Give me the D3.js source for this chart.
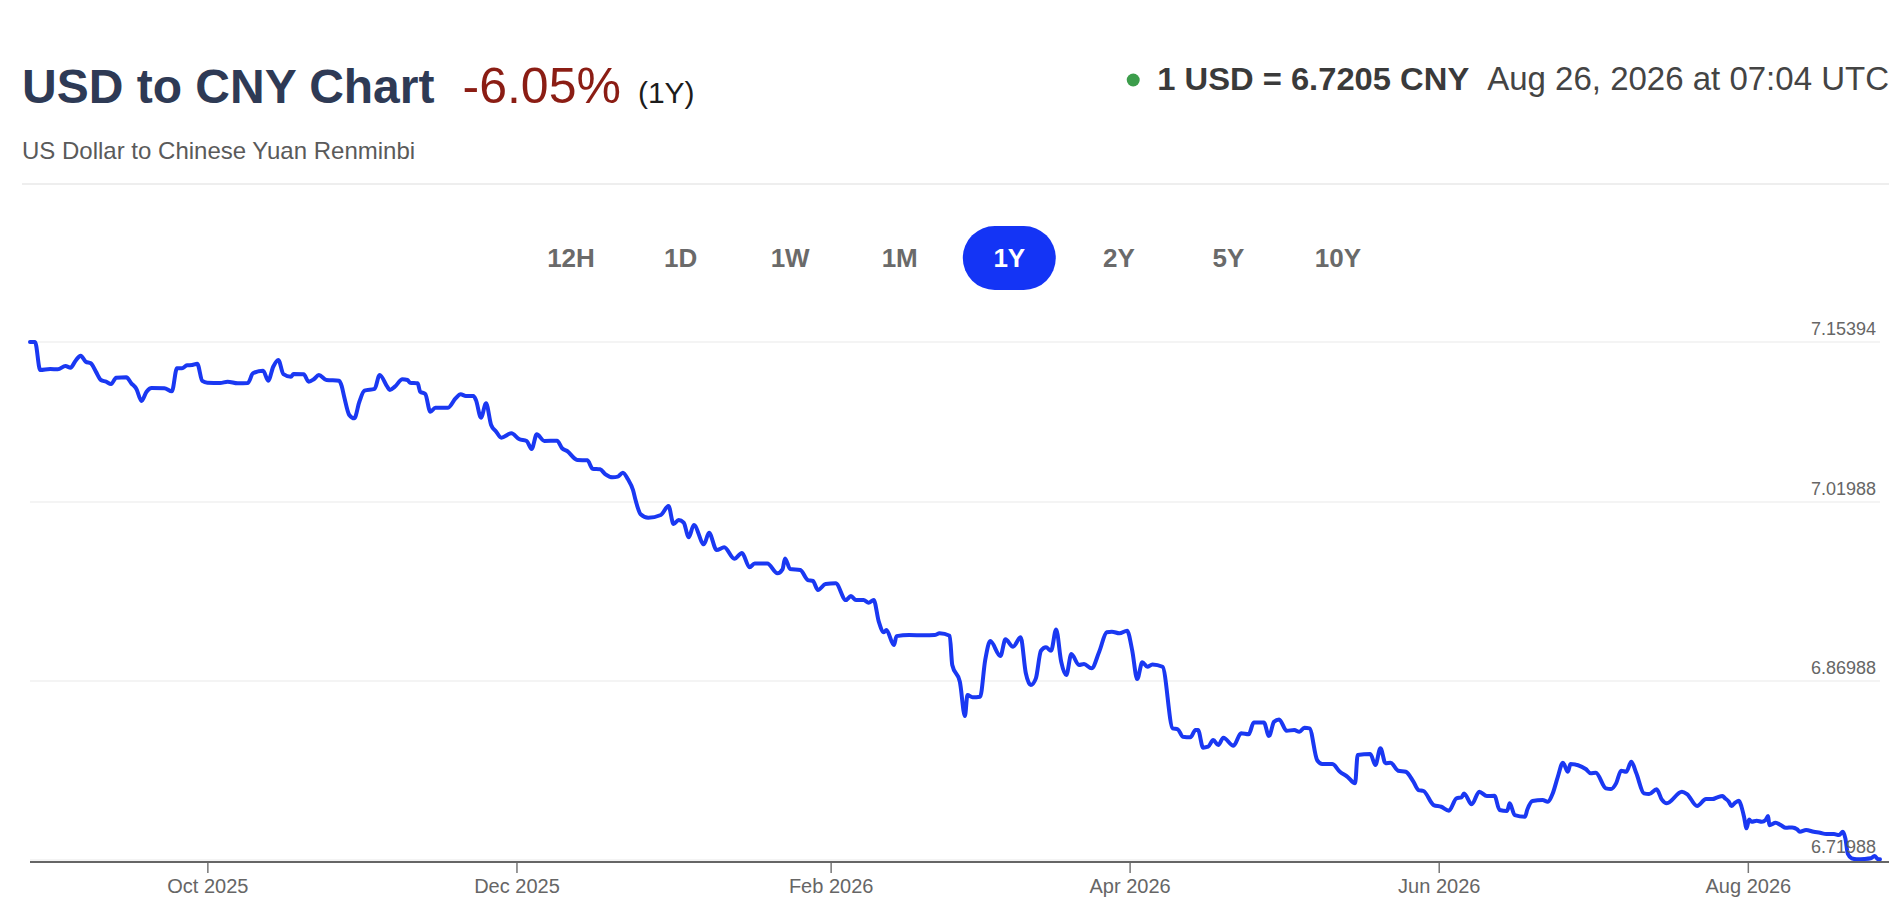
<!DOCTYPE html>
<html>
<head>
<meta charset="utf-8">
<script src="https://cdn.jsdelivr.net/npm/d3@7"></script>
<style>
  html, body { margin: 0; padding: 0; background: #ffffff; }
  svg { display: block; font-family: "Liberation Sans", Arial, Helvetica, sans-serif; }
</style>
</head>
<body>
<svg id="chart" width="1896" height="918"></svg>
<script>
// ---------- data ----------
const titleText = "USD to CNY Chart";
const changeText = "-6.05%";
const periodText = "(1Y)";
const subtitleText = "US Dollar to Chinese Yuan Renminbi";
const rateText = "1 USD = 6.7205 CNY";
const timeText = "Aug 26, 2026 at 07:04 UTC";
const rangeButtons = ["12H", "1D", "1W", "1M", "1Y", "2Y", "5Y", "10Y"];
const activeButton = "1Y";
const yTickValues = [7.15394, 7.01988, 6.86988, 6.71988];
const xTickDates = ["2025-10-01", "2025-12-01", "2026-02-01", "2026-04-01", "2026-06-01", "2026-08-01"];

const dates = [
  "2025-08-27","2025-08-28","2025-08-29","2025-08-31","2025-09-01T12","2025-09-03","2025-09-04","2025-09-05",
  "2025-09-06","2025-09-07","2025-09-08","2025-09-09","2025-09-10","2025-09-11","2025-09-12","2025-09-13",
  "2025-09-15","2025-09-16","2025-09-17","2025-09-18","2025-09-19","2025-09-20","2025-09-22T12","2025-09-24",
  "2025-09-25","2025-09-26","2025-09-27","2025-09-28","2025-09-29","2025-09-30","2025-10-01","2025-10-03T12",
  "2025-10-05","2025-10-07","2025-10-09","2025-10-10","2025-10-12","2025-10-13","2025-10-14","2025-10-15",
  "2025-10-16","2025-10-17T12","2025-10-18","2025-10-20","2025-10-21","2025-10-22","2025-10-23","2025-10-24T12",
  "2025-10-27","2025-10-27T12","2025-10-28","2025-10-29","2025-10-30","2025-10-31","2025-11-01","2025-11-03",
  "2025-11-04","2025-11-05T12","2025-11-06","2025-11-07","2025-11-08T12","2025-11-09T12","2025-11-10","2025-11-11T12",
  "2025-11-12","2025-11-13","2025-11-14","2025-11-15","2025-11-17T12","2025-11-19","2025-11-20","2025-11-21",
  "2025-11-22T12","2025-11-23","2025-11-24","2025-11-25","2025-11-26","2025-11-27","2025-11-28","2025-11-30",
  "2025-12-01T12","2025-12-03","2025-12-04","2025-12-05","2025-12-06T12","2025-12-09","2025-12-10","2025-12-11",
  "2025-12-13","2025-12-15","2025-12-16","2025-12-17T12","2025-12-18T12","2025-12-20","2025-12-21","2025-12-22",
  "2025-12-23","2025-12-24","2025-12-24T12","2025-12-25T12","2025-12-27","2025-12-29T12","2025-12-31","2026-01-01",
  "2026-01-02","2026-01-03","2026-01-04","2026-01-05","2026-01-07","2026-01-08","2026-01-09T12","2026-01-11",
  "2026-01-13","2026-01-14T12","2026-01-16","2026-01-17","2026-01-19T12","2026-01-21T12","2026-01-22T12","2026-01-23",
  "2026-01-24","2026-01-26","2026-01-27T12","2026-01-28T12","2026-01-29T12","2026-01-31","2026-02-02","2026-02-04",
  "2026-02-05","2026-02-06","2026-02-07T12","2026-02-08T12","2026-02-09T12","2026-02-10T12","2026-02-11T12","2026-02-12",
  "2026-02-13T12","2026-02-14","2026-02-16T12","2026-02-19T12","2026-02-21T12","2026-02-22T12","2026-02-24T12","2026-02-25",
  "2026-02-26T12","2026-02-27T12","2026-02-28","2026-03-01","2026-03-02T12","2026-03-03T12","2026-03-04T12","2026-03-06T12",
  "2026-03-07T12","2026-03-09","2026-03-10T12","2026-03-11T12","2026-03-12T12","2026-03-13T12","2026-03-14T12","2026-03-15T12",
  "2026-03-16T12","2026-03-17T12","2026-03-18T12","2026-03-19T12","2026-03-20T12","2026-03-22","2026-03-23","2026-03-24T12",
  "2026-03-26","2026-03-27T12","2026-03-28T12","2026-03-30","2026-03-31T12","2026-04-01T12","2026-04-02T12","2026-04-03T12",
  "2026-04-04T12","2026-04-05T12","2026-04-07T12","2026-04-09T12","2026-04-10T12","2026-04-11T12","2026-04-13","2026-04-14",
  "2026-04-14T12","2026-04-15T12","2026-04-16T12","2026-04-17T12","2026-04-18T12","2026-04-19T12","2026-04-21T12","2026-04-23",
  "2026-04-24T12","2026-04-25T12","2026-04-27T12","2026-04-28T12","2026-04-29T12","2026-04-30T12","2026-05-02","2026-05-03T12",
  "2026-05-04T12","2026-05-05T12","2026-05-06T12","2026-05-08","2026-05-09","2026-05-11","2026-05-12T12","2026-05-14",
  "2026-05-15T12","2026-05-16","2026-05-18T12","2026-05-19T12","2026-05-20T12","2026-05-21T12","2026-05-22T12","2026-05-24",
  "2026-05-25T12","2026-05-27","2026-05-28","2026-05-29","2026-05-31","2026-06-01T12","2026-06-03","2026-06-04T12",
  "2026-06-05T12","2026-06-06","2026-06-07T12","2026-06-09","2026-06-10T12","2026-06-12","2026-06-13","2026-06-14T12",
  "2026-06-15","2026-06-16","2026-06-18","2026-06-18T12","2026-06-19T12","2026-06-21T12","2026-06-22T12","2026-06-23T12",
  "2026-06-24T12","2026-06-25T12","2026-06-26T12","2026-06-27","2026-06-30","2026-07-01","2026-07-02","2026-07-04",
  "2026-07-05","2026-07-06","2026-07-07","2026-07-08","2026-07-09","2026-07-10","2026-07-11T12","2026-07-12T12",
  "2026-07-14","2026-07-15","2026-07-16","2026-07-19","2026-07-20","2026-07-22","2026-07-23T18","2026-07-25",
  "2026-07-26","2026-07-27","2026-07-27T12","2026-07-28T06","2026-07-28T18","2026-07-29T12","2026-07-30T06","2026-07-30T18",
  "2026-07-31T06","2026-07-31T18","2026-08-01T06","2026-08-01T18","2026-08-02T18","2026-08-03T18","2026-08-04T12","2026-08-05",
  "2026-08-05T06","2026-08-06T12","2026-08-07T12","2026-08-08T12","2026-08-09T18","2026-08-10T18","2026-08-11T06","2026-08-12T12",
  "2026-08-14","2026-08-15T06","2026-08-16T12","2026-08-18","2026-08-19","2026-08-19T18","2026-08-20T06","2026-08-20T18",
  "2026-08-21T12","2026-08-22T12","2026-08-24","2026-08-25T06","2026-08-26","2026-08-26T18","2026-08-27T02"
];

const rates = [
  7.15394,7.1539,7.1305,7.1313,7.1311,7.1338,7.1324,7.1383,
  7.1425,7.1374,7.1361,7.1291,7.1221,7.1207,7.1187,7.1240,
  7.1244,7.1193,7.1146,7.1045,7.1123,7.1154,7.1152,7.1126,
  7.1319,7.1319,7.1344,7.1347,7.1358,7.1213,7.1198,7.1196,
  7.1207,7.1193,7.1196,7.1277,7.1299,7.1215,7.1332,7.1389,
  7.1271,7.1249,7.1271,7.1269,7.1207,7.1227,7.1263,7.1221,
  7.1215,7.1171,7.1081,7.0928,7.0900,7.1039,7.1131,7.1146,
  7.1263,7.1165,7.1137,7.1165,7.1227,7.1221,7.1198,7.1193,
  7.1123,7.1104,7.0955,7.0989,7.0989,7.1068,7.1101,7.1087,
  7.1087,7.1053,7.0905,7.1026,7.0844,7.0788,7.0738,7.0774,
  7.0727,7.0710,7.0643,7.0766,7.0710,7.0712,7.0649,7.0626,
  7.0551,7.0548,7.0478,7.0473,7.0433,7.0406,7.0411,7.0444,
  7.0389,7.0299,7.0215,7.0096,7.0067,7.0090,7.0165,7.0014,
  7.0048,7.0025,6.9903,7.0006,6.9844,6.9941,6.9796,6.9819,
  6.9723,6.9771,6.9651,6.9684,6.9684,6.9601,6.9634,6.9726,
  6.9637,6.9629,6.9545,6.9537,6.9461,6.9511,6.9517,6.9377,
  6.9410,6.9377,6.9377,6.9355,6.9377,6.9196,6.9107,6.9126,
  6.9000,6.9075,6.9084,6.9082,6.9084,6.9098,6.9078,6.8833,
  6.8693,6.8405,6.8581,6.8562,6.8567,6.8874,6.9033,6.8908,
  6.9048,6.8986,6.9065,6.8768,6.8665,6.8721,6.8952,6.8981,
  6.8952,6.9131,6.8860,6.8748,6.8925,6.8833,6.8841,6.8805,
  6.8944,6.9107,6.9112,6.9098,6.9120,6.8958,6.8715,6.8855,
  6.8818,6.8838,6.8818,6.8302,6.8294,6.8232,6.8227,6.8288,
  6.8288,6.8140,6.8148,6.8204,6.8162,6.8223,6.8156,6.8260,
  6.8252,6.8352,6.8352,6.8237,6.8357,6.8377,6.8282,6.8288,
  6.8273,6.8307,6.8302,6.8036,6.8003,6.8003,6.7938,6.7896,
  6.7841,6.8078,6.8087,6.7995,6.8135,6.8009,6.8014,6.7947,
  6.7938,6.7855,6.7785,6.7777,6.7659,6.7645,6.7612,6.7716,
  6.7724,6.7757,6.7665,6.7771,6.7735,6.7737,6.7618,6.7609,
  6.7674,6.7575,6.7561,6.7623,6.7693,6.7701,6.7687,6.7757,
  6.7896,6.8014,6.7938,6.8003,6.7961,6.7925,6.7930,6.7799,
  6.7793,6.7841,6.7947,6.7938,6.8022,6.7925,6.7757,6.7751,
  6.7791,6.7707,6.7674,6.7771,6.7751,6.7651,6.7709,6.7709,
  6.7724,6.7735,6.7716,6.7687,6.7651,6.7679,6.7695,6.7645,
  6.7561,6.7464,6.7539,6.7519,6.7528,6.7519,6.7533,6.7567,
  6.7491,6.7511,6.7491,6.7469,6.7472,6.7455,6.7435,6.7450,
  6.7435,6.7427,6.7416,6.7416,6.7408,6.7435,6.7380,6.7249,
  6.7213,6.7205,6.7207,6.7213,6.7232,6.7205,6.7205
];

// ---------- helpers ----------
const parseDate = s => new Date(s.length === 10 ? s + "T00:00Z" : s + ":00Z");
const series = dates.map((d, i) => ({ date: parseDate(d), value: rates[i] }));

const svg = d3.select("#chart");
const FONT = '"Liberation Sans", Arial, Helvetica, sans-serif';

// ---------- header ----------
const header = svg.append("g");
const title = header.append("text")
  .attr("x", 22).attr("y", 103)
  .attr("font-size", 48).attr("font-weight", 700)
  .attr("fill", "#2e3a55").text(titleText);
const tW = title.node().getComputedTextLength();
const change = header.append("text")
  .attr("x", 22 + tW + 28).attr("y", 103)
  .attr("font-size", 50).attr("fill", "#8b1d14").text(changeText);
const cW = change.node().getComputedTextLength();
header.append("text")
  .attr("x", 22 + tW + 28 + cW + 17).attr("y", 103)
  .attr("font-size", 30).attr("fill", "#1c1c1c").text(periodText);

header.append("text")
  .attr("x", 22).attr("y", 159)
  .attr("font-size", 24).attr("fill", "#5a5a5a").text(subtitleText);

const timeLabel = header.append("text")
  .attr("x", 1889).attr("y", 90).attr("text-anchor", "end")
  .attr("font-size", 33).attr("fill", "#444444").text(timeText);
const timeW = timeLabel.node().getComputedTextLength();
const rateLabel = header.append("text")
  .attr("x", 1889 - timeW - 18).attr("y", 90).attr("text-anchor", "end")
  .attr("font-size", 32).attr("font-weight", 700).attr("fill", "#3a3a3a")
  .attr("textLength", 312).attr("lengthAdjust", "spacingAndGlyphs")
  .text(rateText);
const rW = 312;
header.append("circle")
  .attr("cx", 1889 - timeW - 18 - rW - 24).attr("cy", 80).attr("r", 6.5)
  .attr("fill", "#3c9d4b");

header.append("line")
  .attr("x1", 22).attr("x2", 1889).attr("y1", 184).attr("y2", 184)
  .attr("stroke", "#eeeeee").attr("stroke-width", 2);

// ---------- range buttons ----------
const btnG = svg.append("g");
const btnFont = 26, btnCenterY = 258;
const bx = d3.scalePoint().domain(rangeButtons).range([571, 1338]);
rangeButtons.forEach(lbl => {
  const active = lbl === activeButton;
  if (active) {
    btnG.append("rect")
      .attr("x", bx(lbl) - 46.5).attr("y", btnCenterY - 32)
      .attr("width", 93).attr("height", 64).attr("rx", 32)
      .attr("fill", "#1434f5");
  }
  btnG.append("text")
    .attr("x", bx(lbl)).attr("y", btnCenterY).attr("dy", "0.35em")
    .attr("text-anchor", "middle")
    .attr("font-size", btnFont).attr("font-weight", 700)
    .attr("fill", active ? "#ffffff" : "#6a6a6a")
    .text(lbl);
});

// ---------- scales ----------
const x = d3.scaleUtc()
  .domain(d3.extent(series, d => d.date))
  .range([30, 1880]);
const y = d3.scaleLinear()
  .domain([d3.min(yTickValues), d3.max(yTickValues)])
  .range([860, 342]);

// grid lines
const grid = svg.append("g");
grid.selectAll("line").data(yTickValues).join("line")
  .attr("x1", 30).attr("x2", 1880)
  .attr("y1", d => y(d)).attr("y2", d => y(d))
  .attr("stroke", "#f0f0f0").attr("stroke-width", 1.5);

// line
const line = d3.line()
  .x(d => x(d.date))
  .y(d => y(d.value))
  .curve(d3.curveMonotoneX);
svg.append("path")
  .datum(series)
  .attr("d", line)
  .attr("fill", "none")
  .attr("stroke", "#1a38f2")
  .attr("stroke-width", 4)
  .attr("stroke-linejoin", "round")
  .attr("stroke-linecap", "round");

// x axis
const axisY = 862;
const xAxis = d3.axisBottom(x)
  .tickValues(xTickDates.map(parseDate))
  .tickFormat(d3.utcFormat("%b %Y"))
  .tickSize(11)
  .tickPadding(6);
const gx = svg.append("g").attr("transform", `translate(0,${axisY})`).call(xAxis);
gx.select(".domain").remove();
gx.selectAll(".tick line").attr("stroke", "#777777").attr("stroke-width", 1.5);
gx.selectAll(".tick text")
  .attr("font-family", FONT).attr("font-size", 20).attr("fill", "#666666");
svg.append("line")
  .attr("x1", 30).attr("x2", 1889).attr("y1", axisY).attr("y2", axisY)
  .attr("stroke", "#666666").attr("stroke-width", 2);

// y tick labels (right side, above grid lines)
svg.append("g").selectAll("text").data(yTickValues).join("text")
  .attr("x", 1876).attr("y", d => y(d) - 7)
  .attr("text-anchor", "end")
  .attr("font-size", 18).attr("fill", "#666666")
  .text(d => d.toFixed(5));
</script>
</body>
</html>
